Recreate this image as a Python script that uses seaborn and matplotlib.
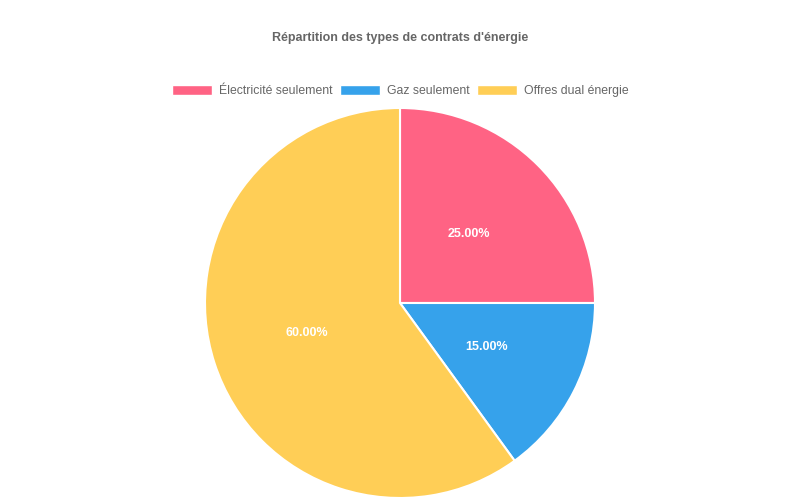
import matplotlib
matplotlib.use("Agg")
import matplotlib.pyplot as plt
import seaborn as sns
from matplotlib.patches import Patch

categories = ["Électricité seulement", "Gaz seulement", "Offres dual énergie"]
values = [25, 15, 60]
colors = ["#FF6384", "#36A2EB", "#FFCE56"]
title = "Répartition des types de contrats d'énergie"

sns.set_theme(style="white")
plt.rcParams['font.family'] = ['Liberation Sans', 'DejaVu Sans']

fig = plt.figure(figsize=(8, 5), dpi=100)
ax = fig.add_axes([0.25625, 0.004, 0.4875, 0.78])
wedges, texts, autotexts = ax.pie(
    values, colors=colors, startangle=90, counterclock=False,
    autopct=lambda p: f"{p:.2f}%", pctdistance=0.5,
    wedgeprops=dict(edgecolor="white", linewidth=1.5),
    textprops=dict(color="white", fontsize=9, fontweight="bold"),
)
ax.set_xlim(-1.0, 1.0)
ax.set_ylim(-1.0, 1.0)
ax.set_aspect("equal")
ax.axis("off")

fig.text(0.5, 1 - 38 / 500, title, ha="center", va="center",
         fontsize=9, fontweight="bold", color="#666666")

handles = [Patch(facecolor=c, edgecolor="white", label=l) for c, l in zip(colors, categories)]
fig.legend(handles=handles, loc="center", bbox_to_anchor=(0.5, 1 - 91 / 500),
           ncol=3, frameon=False, fontsize=8.8, handlelength=3.3, handleheight=0.9,
           handletextpad=0.55, columnspacing=0.6, labelcolor="#666666")

fig.savefig("out.png", dpi=100)
